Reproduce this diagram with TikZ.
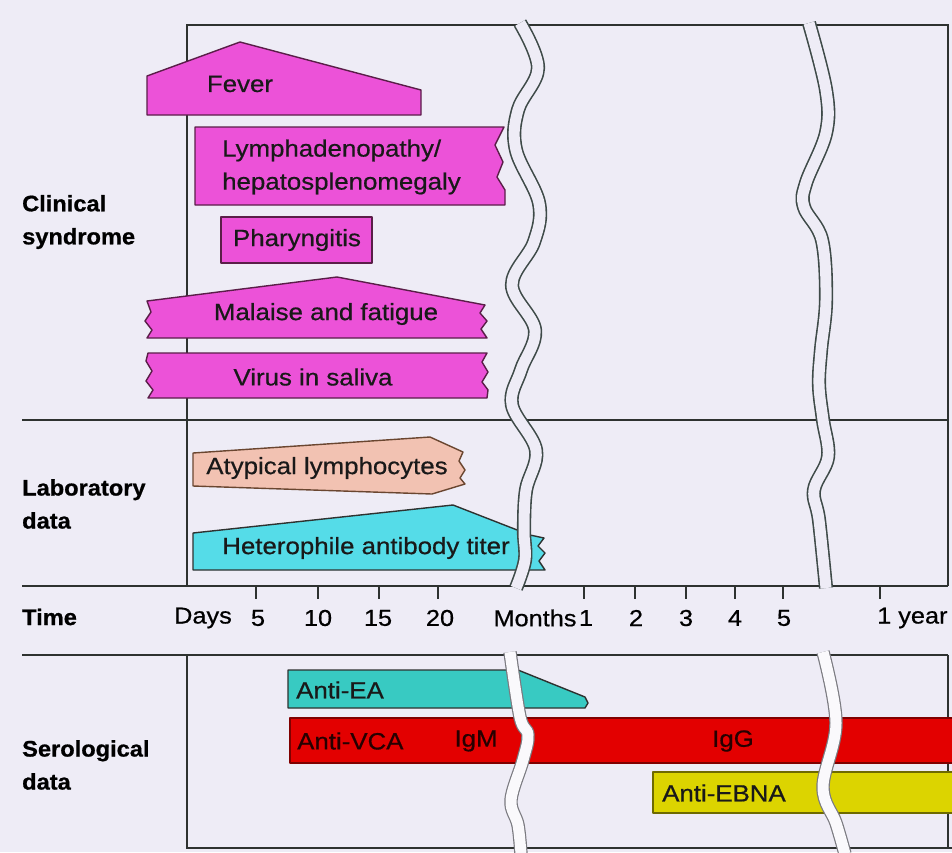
\documentclass[tikz,border=0pt]{standalone}
\usepackage{fontspec}
\setmainfont{Liberation Sans}[FakeStretch=1.1, FakeBold=0.6]
\newfontfamily\labfont{Liberation Sans}[FakeStretch=1.05, BoldFeatures={FakeBold=0.8}]
\definecolor{bg}{HTML}{EEECF6}
\definecolor{linecol}{HTML}{2E3230}
\definecolor{magenta}{HTML}{EC52D8}
\definecolor{magline}{HTML}{5A1E48}
\definecolor{salmon}{HTML}{F2C2B2}
\definecolor{salline}{HTML}{6A4630}
\definecolor{cyanbar}{HTML}{55DCE8}
\definecolor{teal}{HTML}{38CAC2}
\definecolor{redbar}{HTML}{E30000}
\definecolor{yelbar}{HTML}{DCD400}
\definecolor{brkcol}{HTML}{3E4A48}
\definecolor{seroline}{HTML}{7A7A80}
\begin{document}
\begin{tikzpicture}[x=1pt,y=-1pt,
  frame/.style={draw=linecol, line width=1.8pt},
  tick/.style={draw=linecol, line width=1.4pt},
  bar/.style={line width=1.4pt, line join=round},
  lbl/.style={font=\fontsize{23.5}{33}\selectfont, inner sep=0pt, text=black!90},
  sec/.style={font=\labfont\fontsize{22.5}{33}\selectfont\bfseries, align=left, anchor=west, inner sep=0pt},
  tl/.style={font=\fontsize{23}{26}\selectfont, inner sep=0pt},
  brk/.style={draw=brkcol, line width=1.6pt, double=bg, double distance=11pt},
  brks/.style={draw=seroline, line width=1.2pt, double=white!70!bg, double distance=11pt}
]
\useasboundingbox (0,0) rectangle (952,852);
\fill[bg] (0,0) rectangle (952,852);

% frame lines
\draw[frame] (187,586) -- (187,25) -- (948,25) -- (948,586);
\draw[frame] (22,420) -- (948,420);
\draw[frame] (22,586) -- (948,586);
\draw[frame] (22,655) -- (948,655);
\draw[frame] (187,655) -- (187,848) -- (952,848);
\draw[frame] (948,655) -- (948,848);

% ticks
\foreach \x in {256,318,379,438,584,635,686,735,783,880}
  \draw[tick] (\x,587) -- (\x,599);

% clinical bars
\draw[bar, draw=magline, fill=magenta] (147,115) -- (147,76) -- (240,42) -- (421,90) -- (421,115) -- cycle;
\node[lbl] (fever) at (240,84) {Fever};

\draw[bar, draw=magline, fill=magenta] (195,127) -- (504,127) -- (495,145) -- (503,162) -- (497,177) -- (505,190) -- (505,205) -- (195,205) -- cycle;
\node[lbl, anchor=west, align=left] (lymph) at (222,167) {Lymphadenopathy/\\hepatosplenomegaly};

\draw[bar, draw=magline, fill=magenta] (221,217) rectangle (372,263);
\node[lbl] (phar) at (297,240) {Pharyngitis};

\draw[bar, draw=magline, fill=magenta] (147,301) -- (337,277) -- (485,305) -- (480,313) -- (487,321) -- (481,329) -- (487,338) -- (147,338) -- (152,330) -- (145,321) -- (151,312) -- cycle;
\node[lbl] (malaise) at (326,314) {Malaise and fatigue};

\draw[bar, draw=magline, fill=magenta] (148,353) -- (487,353) -- (482,362) -- (488,372) -- (482,382) -- (488,390) -- (487,398) -- (148,398) -- (153,390) -- (146,381) -- (152,371) -- (146,361) -- cycle;
\node[lbl] (virus) at (313,377) {Virus in saliva};

% laboratory bars
\draw[bar, draw=salline, fill=salmon] (193,453) -- (430,437) -- (463,452) -- (459,461) -- (465,470) -- (460,478) -- (465,484) -- (432,494) -- (193,486) -- cycle;
\node[lbl] (atyp) at (327,468) {Atypical lymphocytes};

\draw[bar, draw=linecol, fill=cyanbar] (193,533) -- (453,505) -- (530,535) -- (544,538) -- (538,546) -- (545,553) -- (539,561) -- (545,570) -- (193,570) -- cycle;
\node[lbl] (hetero) at (366,548) {Heterophile antibody titer};

% serological bars
\draw[bar, draw=linecol, fill=teal] (288,670) -- (518,670) -- (585,697) -- (588,703) -- (585,708) -- (288,708) -- cycle;
\node[lbl, anchor=west] (antiea) at (296,690) {Anti-EA};

\draw[bar, draw=red!50!black, fill=redbar] (952,718) -- (290,718) -- (290,763) -- (952,763);
\fill[redbar] (290.7,718.7) rectangle (952,762.3);
\node[lbl, anchor=west, text=black!85!red] (vca) at (297,741) {Anti-VCA};
\node[lbl, text=black!85!red] (igm) at (476,741) {IgM};
\node[lbl, text=black!85!red] (igg) at (733,741) {IgG};

\draw[bar, draw=yelbar!50!black, fill=yelbar] (952,772) -- (653,772) -- (653,813) -- (952,813);
\fill[yelbar] (653.7,772.7) rectangle (952,812.3);
\node[lbl, anchor=west] (ebna) at (662,793) {Anti-EBNA};

% breaks (top)
\draw[brk] plot[smooth, tension=0.6] coordinates {(520,23) (538,68) (518,110) (516,150) (539,203) (534,242) (512,285) (535,330) (521,370) (512,405) (536,450) (526,490) (524,530) (525,560) (516,588)};
\draw[brk] plot[smooth, tension=0.6] coordinates {(809,23) (826,90) (826,133) (806,183) (804,207) (822,240) (826,300) (821,350) (819,385) (823,420) (828,457) (814,490) (819,520) (826,588)};
% breaks (serological)
\draw[brks] plot[smooth, tension=0.6] coordinates {(510,652) (520,717) (528,735) (523,760) (511,800) (518,825) (521,854)};
\draw[brks] plot[smooth, tension=0.6] coordinates {(823,652) (836,723) (823,787) (836,823) (845,854)};

% section labels
\node[sec] (lclin) at (22,222) {Clinical\\syndrome};
\node[sec] (llab) at (22,504) {Laboratory\\data};
\node[sec] (ltime) at (22,617) {Time};
\node[sec] (lsero) at (22,765) {Serological\\data};

% time labels
\node[tl] (tdays) at (203,618) {Days};
\node[tl] (t5) at (258,618) {5};
\node[tl] (t10) at (318,618) {10};
\node[tl] (t15) at (378,618) {15};
\node[tl] (t20) at (440,618) {20};
\node[tl] (tmon) at (535,618) {Months};
\node[tl] (tm1) at (586,618) {1};
\node[tl] (tm2) at (636,618) {2};
\node[tl] (tm3) at (686,618) {3};
\node[tl] (tm4) at (735,618) {4};
\node[tl] (tm5) at (784,618) {5};
\node[tl, anchor=west] (tyear) at (877,618) {1 year};
\end{tikzpicture}
\end{document}
